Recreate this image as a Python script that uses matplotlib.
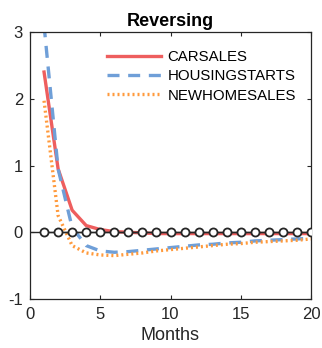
import matplotlib
matplotlib.use("Agg")
import matplotlib.pyplot as plt
import numpy as np

months = list(range(1, 21))
carsales = [2.4, 0.95, 0.33, 0.1, 0.04, 0.01, 0.0, -0.01, -0.02, -0.02,
            -0.02, -0.02, -0.02, -0.02, -0.02, -0.02, -0.02, -0.02, -0.02, -0.02]
housingstarts = [3.1, 0.95, 0.07, -0.2, -0.28, -0.30, -0.29, -0.27, -0.25, -0.23,
                 -0.21, -0.19, -0.18, -0.16, -0.15, -0.13, -0.12, -0.11, -0.10, -0.09]
newhomesales = [1.97, 0.25, -0.2, -0.31, -0.34, -0.35, -0.33, -0.31, -0.28, -0.26,
                -0.24, -0.22, -0.20, -0.18, -0.17, -0.15, -0.14, -0.13, -0.12, -0.10]
baseline = [0.0] * 20
title = "Reversing"
xlabel = "Months"
xticks = [0, 5, 10, 15, 20]
yticks = [-1, 0, 1, 2, 3]

plt.rcParams['font.family'] = ['Liberation Sans', 'DejaVu Sans']
plt.rcParams['axes.unicode_minus'] = False
dark = '#262626'

fig = plt.figure(figsize=(3.22, 3.48), dpi=100)
ax = fig.add_axes([30/322, 1 - 299/348, 281/322, 267/348])

ax.axhline(0, color=dark, lw=1.0, zorder=3)
ax.plot(months, carsales, color='#EE5E5E', lw=2.4, label='CARSALES', zorder=2)
ax.plot(months, housingstarts, color='#6F9FD8', lw=2.4, ls=(0, (3.6, 2.6)),
        label='HOUSINGSTARTS', zorder=2)
ax.plot(months, newhomesales, color='#FF9A3C', lw=2.4, ls=(0, (0.6, 0.9)),
        label='NEWHOMESALES', zorder=2)
ax.plot(months, baseline, color=dark, lw=1.0, marker='o', ms=5.8,
        mfc='white', mec=dark, mew=1.3, zorder=4)

ax.set_xlim(0, 20)
ax.set_ylim(-1, 3)
ax.set_xticks(xticks)
ax.set_yticks(yticks)
ax.tick_params(direction='in', top=True, right=True, length=3, width=0.8,
               colors=dark, labelsize=12)
ax.tick_params(axis='x', pad=6)
ax.tick_params(axis='y', pad=5)
for s in ax.spines.values():
    s.set_color(dark)
    s.set_linewidth(0.9)
ax.set_xlabel(xlabel, fontsize=13, color=dark, labelpad=3)
ax.set_title(title, fontsize=13, fontweight='bold', pad=4)

h, l = ax.get_legend_handles_labels()
ax.legend(h, l, loc='upper left', bbox_to_anchor=(0.275, 0.933), frameon=False,
          fontsize=10.8, handlelength=3.6, handletextpad=0.4, labelspacing=0.36,
          borderpad=0, borderaxespad=0)

fig.savefig('out.png', dpi=100)
